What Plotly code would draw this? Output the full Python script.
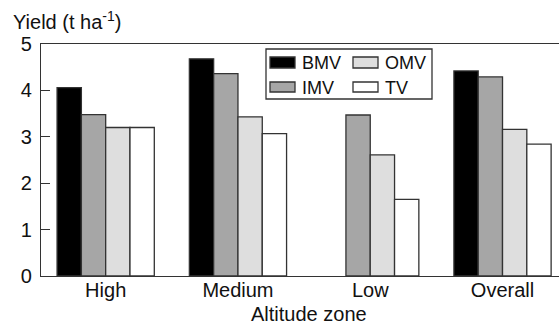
import plotly.graph_objects as go

categories = ["High", "Medium", "Low", "Overall"]
series_names = ["BMV", "IMV", "OMV", "TV"]
bmv = [4.06, 4.68, None, 4.42]
imv = [3.48, 4.36, 3.47, 4.29]
omv = [3.20, 3.43, 2.61, 3.16]
tv = [3.20, 3.07, 1.65, 2.84]
colors = ["#000000", "#a6a6a6", "#dedede", "#ffffff"]
yticks = [0, 1, 2, 3, 4, 5]

FONT = "Liberation Sans, Arial, Helvetica, sans-serif"
values = [bmv, imv, omv, tv]

fig = go.Figure()
for name, vals, col in zip(series_names, values, colors):
    fig.add_trace(go.Bar(
        x=categories, y=vals, name=name,
        marker=dict(color=col, line=dict(color="#333333", width=1.3)),
        showlegend=False,
    ))

# plot area geometry (pixels)
L, R, T, B = 41, 559, 44, 276
W, H = R - L, B - T

def px(xp):
    return (xp - L) / W

def py(yp):
    return (B - yp) / H

shapes = [dict(type="rect", xref="paper", yref="paper",
               x0=px(266), x1=px(432), y0=py(99), y1=py(49),
               line=dict(color="#333333", width=1.3), fillcolor="white")]
annotations = []
leg_pos = [(270, 57, 68), (270, 82, 92), (353, 57, 68), (353, 82, 92)]
for name, col, (x0, y0, y1) in zip(series_names, colors, leg_pos):
    shapes.append(dict(type="rect", xref="paper", yref="paper",
                       x0=px(x0), x1=px(x0 + 25), y0=py(y1), y1=py(y0),
                       line=dict(color="#333333", width=1.3), fillcolor=col))
    annotations.append(dict(text=name, xref="paper", yref="paper",
                            x=px(x0 + 30), y=py((y0 + y1) / 2 + 0.5),
                            xanchor="left", yanchor="middle", showarrow=False,
                            font=dict(family=FONT, size=18, color="#111111")))

annotations.append(dict(text="Yield (t ha<sup>-1</sup>)", xref="paper", yref="paper",
                        x=px(11), y=py(20), xanchor="left", yanchor="middle",
                        showarrow=False,
                        font=dict(family=FONT, size=20, color="#111111")))
annotations.append(dict(text="Altitude zone", xref="paper", yref="paper",
                        x=px(309), y=py(314), xanchor="center", yanchor="middle",
                        showarrow=False,
                        font=dict(family=FONT, size=20, color="#111111")))

fig.update_layout(
    width=559, height=324,
    margin=dict(l=L, r=559 - R, t=T, b=324 - B),
    paper_bgcolor="white", plot_bgcolor="white",
    barmode="group", bargap=0.265, bargroupgap=0,
    font=dict(family=FONT, size=20, color="#111111"),
    shapes=shapes, annotations=annotations,
    xaxis=dict(
        range=[-0.489, 3.427], showline=True, mirror=True,
        linecolor="#333333", linewidth=1.3, ticks="", showgrid=False,
        tickfont=dict(size=20), ticklabelstandoff=-4,
        fixedrange=True,
    ),
    yaxis=dict(
        range=[0, 5], tickvals=yticks, showline=True, linecolor="#333333",
        linewidth=1.3, ticks="inside", ticklen=9, tickcolor="#333333",
        showgrid=False, zeroline=False, tickfont=dict(size=20), ticklabelstandoff=4,
        fixedrange=True,
    ),
)

fig.write_html("out.html", config={"displayModeBar": False},
               post_script="document.body.style.margin='0';document.body.style.padding='0';")
